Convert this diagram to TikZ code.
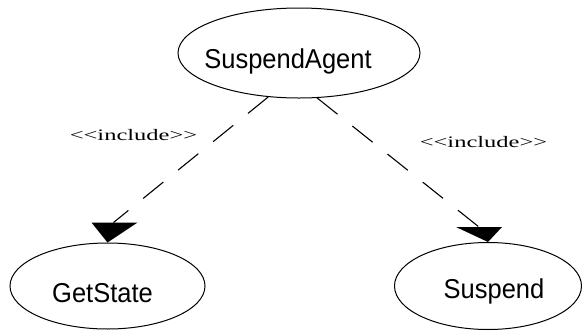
\documentclass[tikz,border=0pt]{standalone}
\usepackage{fontspec}
\setmainfont{Liberation Sans}
\newfontfamily\labelserif{Liberation Serif}
\usetikzlibrary{shapes.geometric,calc}
\begin{document}
\begin{tikzpicture}[x=1pt,y=-1pt,
  usecase/.style={draw=black,line width=1pt,ellipse,inner sep=0pt},
  uctext/.style={font=\fontsize{25.5}{30}\selectfont,inner sep=0pt,anchor=base},
  include/.style={draw=black,line width=1.1pt,dash pattern=on 26pt off 19pt},
  stereo/.style={font=\labelserif\fontsize{16}{19}\selectfont,inner sep=0pt,anchor=base},
  tiphead/.style={fill=black}]
\useasboundingbox (0,0) rectangle (582,330);
\fill[white] (0,0) rectangle (582,330);

% use cases
\node[usecase,minimum width=242pt,minimum height=90pt] (sa) at (299,53) {};
\node[uctext] (satext) at (288,68) {\scalebox{1}[1.07]{SuspendAgent}};
\node[usecase,minimum width=195pt,minimum height=86pt] (gs) at (107.5,286) {};
\node[uctext] (gstext) at (102.5,302) {\scalebox{1}[1.07]{GetState}};
\node[usecase,minimum width=187pt,minimum height=87pt] (su) at (488,286) {};
\node[uctext] (sutext) at (494,298) {\scalebox{1}[1.07]{Suspend}};

% include dependencies
\coordinate (gsend) at ($(gs.north)+(6,-20)$);
\coordinate (suend) at ($(su.north)+(-9,-15)$);
\draw[include] (sa.235) -- (gsend);
\draw[include] (sa.292) -- (suend);
\fill[tiphead] ($(gs.north)+(-16,-20)$) -- ($(gs.north)+(30,-20)$) -- (gs.north) -- cycle;
\fill[tiphead] ($(su.north)+(-32,-15)$) -- ($(su.north)+(14,-15)$) -- (su.north) -- cycle;

% stereotype labels
\node[stereo] (inc1) at (133.5,140) {\scalebox{1.53}[1]{<<include>>}};
\node[stereo] (inc2) at (483.5,147) {\scalebox{1.53}[1]{<<include>>}};
\end{tikzpicture}
\end{document}
